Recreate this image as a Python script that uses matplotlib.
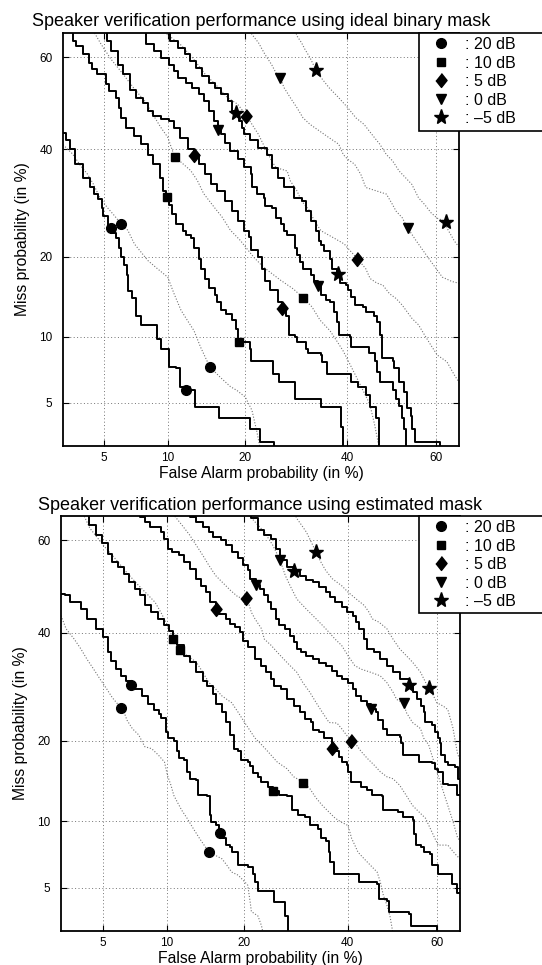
import math
import numpy as np
import matplotlib
matplotlib.use('Agg')
import matplotlib.pyplot as plt
from matplotlib.lines import Line2D
from matplotlib.patches import Rectangle
from matplotlib.ticker import NullLocator

plt.rcParams['font.family'] = ['Liberation Sans', 'DejaVu Sans']

# ---- data: (false alarm %, miss %) ----
snr_labels = [': 20 dB', ': 10 dB', ': 5 dB', ': 0 dB', ': \u20135 dB']
tick_vals = [5, 10, 20, 40, 60]

# ideal binary mask, solid curves
ibm_solid_20 = [(3.0,43.5),(3.1,42.1),(3.3,40.0),(3.5,36.9),(3.85,34.1),(4.2,32.2),(4.4,30.9),(4.65,29.9),(4.85,28.3),(4.95,26.8),(5.25,24.7),(5.4,23.8),(5.75,23.0),(5.95,21.3),(6.05,20.0),(6.3,18.8),(6.5,17.3),(6.6,15.1),(6.9,14.2),(7.2,12.2),(7.6,11.2),(8.9,11.2),(9.0,9.8),(9.3,8.9),(10.1,8.5),(10.1,7.4),(10.9,7.3),(11.3,6.0),(12.4,5.8),(13.0,4.8),(16.1,4.8),(16.1,4.2),(20.8,4.2),(20.8,3.7),(22.6,3.7),(22.6,3.15),(25.1,3.15),(25.1,2.9)]
ibm_solid_10 = [(3.27,66),(3.4,63.3),(3.55,62.3),(3.85,60.6),(4.15,58.8),(4.3,57.4),(4.6,56.3),(5.1,54.1),(5.3,52.7),(5.75,51.2),(5.95,49.0),(6.05,46.8),(6.4,44.7),(7.0,42.9),(7.6,41.1),(8.15,38.9),(8.6,36.9),(9.2,34.1),(9.5,31.5),(9.8,30.2),(10.1,28.9),(10.45,27.1),(10.9,25.3),(11.6,24.2),(12.0,23.5),(12.6,22.9),(12.95,21.3),(13.5,19.7),(13.7,18.2),(14.3,16.8),(14.8,15.5),(15.6,14.6),(15.85,13.8),(16.5,12.8),(17.2,12.4),(18.1,11.7),(18.6,10.8),(18.9,10.15),(19.0,9.5),(19.9,9.5),(20.8,8.9),(21.0,7.9),(22.9,7.9),(24.9,6.9),(26.0,6.3),(28.8,6.3),(29.1,5.25),(34.3,5.25),(34.3,4.8),(38.1,4.8),(38.7,3.8),(39.1,2.9)]
ibm_solid_5 = [(4.95,66),(5.15,63.3),(5.4,61.3),(5.85,58.4),(6.2,56.3),(6.75,53.0),(7.2,51.2),(7.75,50.1),(8.15,48.3),(8.6,47.2),(9.3,46.5),(10.1,46.1),(10.6,44.7),(11.3,42.5),(12.2,40.0),(12.9,38.9),(13.5,36.9),(14.3,34.8),(15.0,32.8),(15.85,31.5),(17.0,29.6),(18.1,27.7),(18.9,25.9),(19.9,24.2),(20.7,23.1),(21.0,21.0),(22.3,20.0),(22.9,18.2),(23.4,16.4),(24.3,15.3),(25.7,13.8),(26.5,13.1),(27.2,12.2),(27.8,10.15),(29.1,10.0),(29.4,9.5),(31.3,8.9),(31.6,8.5),(34.3,8.35),(34.6,7.8),(35.6,6.9),(40.1,6.9),(40.9,6.3),(42.4,6.0),(44.2,5.45),(45.0,4.8),(46.5,4.2),(47.2,2.9)]
ibm_solid_0 = [(7.75,66),(8.0,62.7),(8.7,61.3),(9.3,59.9),(10.1,58.4),(10.6,57.0),(11.1,55.6),(12.0,54.5),(12.7,53.4),(13.5,52.0),(14.1,50.5),(14.8,48.3),(15.4,46.1),(16.0,44.1),(16.5,43.2),(17.0,41.4),(17.7,39.7),(18.9,37.9),(19.9,36.4),(21.0,34.8),(21.2,32.2),(22.0,30.9),(23.2,30.2),(23.4,28.6),(24.6,28.3),(25.4,26.5),(26.3,25.3),(26.9,24.2),(27.5,23.5),(29.1,21.3),(29.4,20.3),(30.0,19.2),(30.6,18.2),(32.3,17.3),(32.9,16.4),(33.6,15.9),(34.3,14.6),(35.3,14.0),(36.3,13.8),(37.0,12.6),(37.7,11.5),(38.1,10.2),(40.5,10.0),(40.9,9.05),(44.4,9.05),(44.8,8.5),(46.3,7.9),(46.6,7.0),(47.3,6.3),(49.9,6.3),(50.2,5.75),(51.0,5.25),(51.7,4.85),(52.4,4.2),(52.8,3.7),(53.2,2.9)]
ibm_solid_m5 = [(9.8,66),(10.25,63.3),(11.1,62.0),(11.8,60.6),(12.4,59.1),(13.1,57.7),(13.9,55.9),(14.8,54.5),(15.6,53.4),(16.5,52.0),(17.4,50.5),(18.1,48.3),(18.7,47.9),(19.1,46.1),(19.6,44.7),(19.9,43.2),(20.8,42.1),(22.3,40.4),(23.7,38.9),(24.6,36.2),(25.7,34.1),(26.9,32.2),(28.8,30.2),(30.3,29.6),(31.3,27.7),(32.3,25.9),(33.3,24.2),(33.9,22.5),(34.3,21.9),(34.9,20.8),(36.3,19.7),(36.7,18.2),(37.7,17.5),(38.4,16.2),(39.8,15.9),(40.1,15.3),(40.8,14.4),(41.6,13.4),(43.4,13.2),(44.1,12.6),(45.9,12.2),(46.6,11.5),(47.3,10.15),(47.7,8.1),(50.2,7.9),(50.6,7.3),(51.7,6.3),(52.8,5.65),(53.5,4.7),(54.3,4.3),(54.6,3.7),(55.3,3.15),(61.0,3.15),(61.0,2.9)]

# ideal binary mask, dotted curves
ibm_dot_20 = [(3.0,41.0),(3.4,39.0),(3.7,36.9),(4.1,34.8),(4.4,32.8),(4.75,30.2),(5.2,28.3),(5.65,26.8),(6.1,25.3),(6.55,24.3),(7.05,22.0),(8.15,19.4),(9.0,18.2),(10.0,17.0),(10.65,14.8),(11.4,12.8),(12.1,11.7),(12.9,10.6),(13.7,9.05),(14.9,7.4),(16.4,6.6),(17.8,6.0),(18.8,5.75),(20.1,5.35),(21.2,4.6),(22.0,3.6),(22.6,2.9)]
ibm_dot_10 = [(4.3,66),(4.8,62.8),(5.4,59.6),(6.2,56.4),(7.05,53.1),(7.85,50.6),(8.55,47.7),(9.3,44.8),(10.0,42.6),(10.7,38.5),(11.6,37.0),(12.5,35.6),(13.3,33.6),(14.1,31.0),(15.5,28.4),(16.6,26.6),(17.8,24.3),(19.3,22.6),(21.5,19.9),(23.2,18.4),(26.2,16.6),(28.7,15.4),(30.6,14.3),(32.4,13.2),(34.1,11.7),(36.2,10.6),(37.6,9.65),(39.0,8.75),(40.5,7.65),(42.0,6.65),(43.5,5.75),(45.0,4.95),(46.1,3.9),(47.2,2.9)]
ibm_dot_5 = [(9.8,66),(9.95,64.7),(11.3,62.7),(12.7,59.9),(14.3,56.3),(16.1,53.4),(17.4,51.2),(18.9,49.8),(20.3,47.3),(21.2,45.4),(22.3,43.2),(23.4,40.4),(24.6,37.6),(25.4,36.2),(27.5,35.5),(28.1,33.5),(29.4,31.5),(30.3,29.6),(32.0,27.7),(32.9,25.9),(34.3,24.2),(37.0,23.0),(39.3,22.0),(40.5,21.0),(42.2,19.7),(44.1,18.2),(45.1,16.8),(46.6,16.2),(48.0,15.9),(49.5,14.8),(51.0,14.2),(52.4,13.4),(54.6,11.9),(56.1,11.2),(57.5,10.15),(58.9,9.2),(60.3,8.35),(62.4,7.8),(64.0,6.8),(66,5.8)]
ibm_dot_0 = [(20.8,66),(21.2,64.7),(22.3,63.0),(23.4,60.6),(24.6,58.4),(25.4,56.6),(26.2,55.5),(26.9,53.4),(28.1,51.2),(29.4,49.0),(30.6,46.8),(32.0,45.4),(33.9,44.0),(36.0,42.5),(38.1,41.1),(39.1,38.9),(40.1,37.9),(41.6,36.9),(43.0,34.8),(44.1,32.2),(46.6,31.5),(48.8,30.9),(50.2,28.9),(51.0,27.7),(52.4,26.5),(53.7,24.6),(54.6,23.6),(55.5,22.6),(58.2,19.9),(61.4,17.0),(63.5,16.4),(66,16.0)]
ibm_dot_m5 = [(28.9,66),(29.4,64.4),(30.3,63.0),(31.0,61.6),(32.0,59.9),(33.2,57.3),(34.3,55.6),(36.0,53.4),(38.1,51.2),(40.1,49.0),(41.9,46.8),(43.7,45.4),(45.5,43.2),(47.3,41.1),(48.8,38.9),(50.2,37.6),(51.7,35.5),(53.2,34.1),(54.6,32.8),(56.1,30.2),(57.5,28.9),(58.9,27.4),(60.3,26.4),(62.2,25.8),(62.4,24.7),(64.0,22.5),(66,20.5)]

ibm_circle = [(5.4,24.7),(6.1,25.3),(12.0,5.8),(14.9,7.4)]
ibm_square = [(9.9,30.4),(10.7,38.5),(19.1,9.5),(30.6,14.3)]
ibm_diamond = [(12.9,38.9),(20.3,47.3),(26.5,13.1),(42.2,19.7)]
ibm_tri = [(16.0,44.1),(26.2,55.5),(33.6,15.8),(53.7,24.6)]
ibm_star = [(18.7,47.9),(33.2,57.3),(38.0,17.5),(62.2,25.8)]

# estimated mask, solid curves
est_solid_20 = [(3.0,48.4),(3.15,48.1),(3.35,46.6),(3.85,45.2),(4.15,43.0),(4.65,40.9),(5.05,39.1),(5.3,36.0),(5.5,34.3),(5.85,32.6),(6.2,31.3),(6.5,30.3),(6.9,29.5),(7.2,28.8),(7.75,27.5),(8.3,26.0),(8.85,25.1),(9.3,24.3),(9.5,23.6),(9.95,21.4),(10.1,20.4),(10.75,19.9),(11.1,18.4),(11.3,17.4),(11.8,17.2),(12.2,15.6),(12.6,14.7),(13.3,14.5),(13.5,12.7),(14.6,12.6),(15.0,10.6),(15.2,9.9),(15.8,9.6),(16.3,8.95),(16.7,8.45),(17.2,7.9),(17.9,7.75),(18.1,7.35),(18.9,7.35),(19.1,6.4),(20.6,6.3),(21.5,5.85),(21.8,5.35),(22.3,4.8),(24.9,4.8),(25.1,4.25),(26.9,4.25),(27.2,3.6),(27.8,2.9)]
est_solid_10 = [(4.1,66),(4.25,63.2),(4.65,61.1),(4.95,59.3),(5.3,57.1),(5.6,55.3),(5.95,54.3),(6.4,52.8),(6.75,51.0),(7.2,49.5),(7.6,48.1),(8.0,45.9),(8.55,44.4),(9.15,43.0),(9.75,41.6),(10.25,40.5),(10.7,38.7),(11.1,37.4),(11.8,35.3),(12.5,34.0),(13.3,32.0),(14.1,30.3),(14.7,29.4),(15.4,27.8),(15.8,26.0),(16.7,24.6),(17.2,22.9),(17.9,20.9),(18.4,18.8),(19.1,18.4),(19.6,17.2),(20.6,16.9),(21.0,16.3),(21.5,15.4),(22.3,14.95),(22.9,14.3),(24.0,13.7),(25.0,13.2),(26.0,12.7),(27.5,12.6),(28.4,11.1),(29.7,10.6),(31.0,10.4),(32.0,9.6),(33.6,9.3),(34.3,8.45),(35.3,8.2),(36.0,7.35),(36.3,6.6),(37.0,5.85),(42.6,5.85),(42.6,5.35),(46.6,5.2),(47.0,4.4),(48.8,4.3),(49.2,3.8),(53.9,3.7),(54.3,3.2),(60.0,3.15),(60.0,2.9)]
est_solid_5 = [(7.5,66),(7.6,64.8),(8.0,63.8),(8.45,62.8),(9.45,61.7),(9.75,60.3),(10.1,58.2),(10.6,57.5),(11.3,56.8),(11.8,55.3),(12.5,53.9),(13.3,51.7),(13.9,50.2),(14.5,48.8),(15.1,46.6),(15.9,45.2),(16.3,44.1),(17.2,43.0),(17.9,41.9),(18.6,41.2),(19.3,40.1),(19.8,38.4),(20.6,37.0),(21.8,34.6),(22.9,33.3),(23.7,32.0),(24.6,30.7),(25.1,29.4),(26.3,28.8),(27.5,26.9),(28.8,25.7),(30.0,24.6),(31.0,23.4),(32.3,23.0),(32.6,21.7),(33.9,21.4),(34.9,20.4),(36.6,18.9),(37.3,18.4),(38.1,17.6),(38.7,16.9),(39.8,16.5),(40.1,15.6),(40.8,14.3),(43.0,13.7),(44.4,13.3),(45.5,12.7),(47.7,12.6),(48.0,11.1),(51.4,10.9),(52.4,10.4),(54.6,10.1),(55.0,8.85),(55.3,7.9),(56.4,7.75),(57.1,7.35),(58.6,7.2),(58.9,6.4),(60.3,6.3),(60.3,5.85),(62.5,5.85),(63.2,5.2),(64.3,4.7),(66,4.7)]
est_solid_0 = [(12.3,66),(12.5,64.8),(13.3,63.8),(14.1,62.8),(14.9,61.7),(15.4,60.7),(16.5,60.0),(17.2,58.9),(18.1,57.5),(19.1,56.1),(19.9,54.6),(20.6,53.5),(21.0,51.7),(21.9,50.3),(22.6,49.5),(23.4,48.1),(24.0,46.6),(24.6,45.1),(25.4,43.0),(26.0,41.6),(27.2,40.9),(28.1,39.4),(28.8,38.1),(29.4,36.7),(30.3,36.0),(31.3,35.3),(32.6,34.6),(33.9,33.9),(35.3,33.3),(36.7,32.3),(37.7,31.3),(38.7,30.7),(40.1,30.0),(41.2,28.8),(41.9,27.5),(43.0,26.6),(44.4,26.0),(45.2,25.2),(46.3,24.6),(46.8,23.3),(48.0,21.9),(48.8,20.9),(51.7,20.6),(52.1,19.6),(52.4,17.9),(55.7,17.9),(56.1,16.9),(58.9,16.7),(59.6,16.0),(60.3,15.6),(61.4,14.1),(62.4,13.9),(63.5,13.9),(64.3,12.8),(66,12.7)]
est_solid_m5 = [(20.9,66),(21.2,64.5),(22.3,62.1),(23.4,61.1),(24.6,60.3),(25.4,58.2),(26.2,55.8),(27.5,54.3),(28.9,53.3),(30.0,52.4),(31.3,51.4),(32.6,51.0),(33.9,49.9),(35.3,48.8),(36.3,47.7),(37.3,46.6),(38.7,45.5),(39.8,44.4),(41.2,43.7),(41.9,42.3),(42.6,40.9),(43.7,38.7),(44.4,36.7),(45.9,36.0),(47.3,34.6),(48.8,33.3),(50.2,32.0),(51.7,30.7),(53.9,29.5),(54.6,28.2),(55.7,26.9),(56.4,25.7),(57.1,24.6),(57.5,22.9),(58.9,22.5),(59.6,21.4),(60.3,20.4),(60.7,19.6),(61.0,17.9),(61.7,16.9),(62.4,16.5),(64.0,16.2),(64.5,14.7),(66,14.7)]

# estimated mask, dotted curves
est_dot_20 = [(3.0,43.7),(3.2,40.9),(3.55,38.7),(3.85,36.7),(4.15,34.6),(4.5,32.6),(4.85,30.7),(5.25,28.8),(5.6,27.2),(6.2,25.3),(6.4,24.6),(6.6,23.3),(7.0,21.9),(7.5,20.9),(8.0,19.1),(8.6,18.8),(9.2,17.9),(9.8,16.9),(10.1,15.1),(10.45,13.9),(10.75,12.7),(11.1,12.0),(11.6,11.1),(12.2,10.3),(12.95,9.3),(13.7,8.45),(14.9,7.35),(15.8,7.1),(16.7,6.85),(17.4,6.4),(18.1,5.95),(19.1,5.75),(20.1,5.35),(20.6,5.15),(21.0,4.25),(21.2,3.8),(22.3,3.6),(22.9,3.2),(23.2,2.9)]
est_dot_10 = [(3.9,66),(4.3,62.5),(5.1,58.7),(5.8,56.0),(6.6,53.0),(7.4,50.5),(8.3,48.1),(8.9,46.6),(9.45,44.4),(10.1,41.6),(10.9,38.7),(11.4,36.5),(12.2,35.3),(13.3,34.0),(14.1,32.0),(14.9,30.0),(15.8,28.8),(16.7,27.5),(18.1,26.3),(19.1,24.6),(20.1,22.9),(21.8,20.4),(22.9,19.4),(24.0,18.4),(25.7,16.9),(27.5,16.0),(28.8,14.95),(30.6,14.3),(32.0,13.5),(33.3,12.4),(34.6,11.6),(36.0,10.9),(37.3,10.3),(38.7,9.9),(40.1,9.6),(40.9,8.45),(41.6,7.9),(42.3,7.35),(43.7,6.85),(45.1,6.4),(46.6,5.95),(47.3,5.35),(48.0,4.6),(48.8,4.1),(49.5,3.6),(50.2,2.9)]
est_dot_5 = [(10.6,66),(10.75,65.2),(11.6,63.2),(12.5,61.1),(13.3,58.9),(14.1,56.8),(14.9,54.6),(15.8,52.4),(16.7,51.0),(17.9,49.2),(19.1,47.7),(20.3,47.5),(20.7,46.6),(21.2,44.4),(21.8,43.0),(22.9,40.9),(23.4,38.7),(24.6,37.4),(25.7,36.0),(26.9,34.6),(28.1,33.3),(29.4,32.0),(30.6,30.0),(32.0,28.2),(33.3,26.3),(34.6,24.6),(36.0,22.9),(37.7,22.8),(38.7,21.9),(40.7,20.0),(41.9,19.4),(43.0,18.4),(44.4,17.4),(45.9,16.5),(47.3,15.6),(48.8,14.95),(50.2,14.7),(51.7,13.9),(53.2,12.7),(54.6,11.6),(56.1,10.9),(57.5,10.3),(58.6,9.3),(59.6,8.45),(60.3,7.9),(62.4,7.9),(64.0,7.2),(66,6.5)]
est_dot_0 = [(20.2,66),(21.8,63.8),(23.4,61.7),(24.9,58.9),(26.2,55.8),(27.2,52.4),(28.1,50.2),(29.4,47.3),(31.3,45.1),(33.3,43.0),(35.3,40.9),(37.3,38.7),(38.7,37.4),(40.1,35.3),(41.6,33.3),(43.0,32.6),(45.1,32.0),(47.3,31.3),(48.8,30.0),(50.2,28.2),(51.0,26.9),(52.6,26.2),(53.2,24.6),(54.6,22.9),(56.4,21.9),(57.1,20.4),(58.2,19.4),(58.9,17.9),(59.6,16.5),(60.3,15.1),(61.0,13.9),(61.7,12.7),(62.4,11.6),(63.5,10.0),(64.5,8.5),(66,7.8)]
est_dot_m5 = [(28.8,66),(29.4,64.5),(30.3,63.2),(31.3,61.7),(32.3,59.6),(33.3,57.4),(34.3,55.3),(35.3,53.5),(36.7,51.7),(38.7,50.2),(40.1,48.8),(41.9,47.3),(43.7,45.9),(44.8,44.4),(45.5,43.0),(47.0,42.3),(48.8,40.9),(50.2,38.7),(51.7,36.7),(53.2,35.3),(54.6,34.0),(56.4,32.0),(58.2,28.9),(58.9,28.2),(60.0,26.3),(61.4,25.7),(62.4,25.1),(63.5,22.0),(64.5,18.0),(66,15.8)]

est_circle = [(6.2,25.3),(6.9,29.5),(14.9,7.35),(16.4,8.95)]
est_square = [(10.7,38.7),(11.4,36.5),(25.0,13.2),(30.6,14.2)]
est_diamond = [(15.9,45.2),(20.3,47.5),(36.6,18.9),(40.7,20.0)]
est_tri = [(21.9,50.3),(26.2,55.8),(45.2,25.2),(52.6,26.2)]
est_star = [(28.9,53.3),(33.3,57.4),(53.9,29.5),(58.2,28.9)]

# ---- normal deviate (probit) scale, in percent ----
_z = np.linspace(-5, 5, 20001)
_p = np.array([50.0 * (1 + math.erf(v / math.sqrt(2))) for v in _z])

def to_probit(p):
    return np.interp(p, _p, _z)

def from_probit(z):
    return np.interp(z, _z, _p)

diamond = [(0, 1), (0.8, 0), (0, -1), (-0.8, 0)]
markerStyles = [('o', 7.0), ('s', 5.6), (diamond, 10.0), ('v', 7.8), ('*', 11.0)]

W, H = 542, 965


def draw_det(fig, ax, solids, dots, marks, title, pad, leg_top, leg_bottom):
    ax.set_xscale('function', functions=(to_probit, from_probit))
    ax.set_yscale('function', functions=(to_probit, from_probit))
    for c in dots:
        x, y = zip(*c)
        ax.plot(x, y, color='0.45', lw=0.8, ls=(0, (1, 1.6)), zorder=2)
    for c in solids:
        x, y = zip(*c)
        ax.plot(x, y, color='k', lw=1.4, drawstyle='steps-post', zorder=3)
    for pts, (m, ms) in zip(marks, markerStyles):
        x, y = zip(*pts)
        ax.plot(x, y, marker=m, color='k', ms=ms, ls='none', zorder=4)
    ax.set_xlim(3, 65)
    ax.set_ylim(3, 65)
    ax.set_xticks(tick_vals)
    ax.set_xticklabels([str(t) for t in tick_vals])
    ax.set_yticks(tick_vals)
    ax.set_yticklabels([str(t) for t in tick_vals])
    ax.xaxis.set_minor_locator(NullLocator())
    ax.yaxis.set_minor_locator(NullLocator())
    ax.grid(True, color='0.45', ls=(0, (1, 2.5)), lw=0.7)
    ax.tick_params(axis='x', direction='in', top=True, length=4, width=0.8,
                   labelsize=8.5, pad=4)
    ax.tick_params(axis='y', direction='in', right=True, length=4, width=0.8,
                   labelsize=8.5, pad=7.5)
    for s in ax.spines.values():
        s.set_linewidth(1.3)
    ax.set_xlabel('False Alarm probability (in %)', fontsize=11.3, labelpad=1.5)
    ax.set_ylabel('Miss probability (in %)', fontsize=11.3, labelpad=7)
    ax.set_title(title, fontsize=13, pad=pad)

    # legend box runs past the right edge of the figure
    fig.add_artist(Rectangle((419 / W, 1 - leg_bottom / H), 200 / W,
                             (leg_bottom - leg_top) / H, transform=fig.transFigure,
                             facecolor='white', edgecolor='k', lw=1.2, zorder=1))
    handles = [Line2D([], [], marker=m, color='k', ms=ms, ls='none')
               for m, ms in markerStyles]
    fig.legend(handles, snr_labels, loc='upper left',
               bbox_to_anchor=(419 / W, 1 - leg_top / H), bbox_transform=fig.transFigure,
               fontsize=11.5, frameon=False, borderpad=0.25, handlelength=2.3,
               handletextpad=0.3, labelspacing=0.22, borderaxespad=0)


fig = plt.figure(figsize=(W / 100, H / 100), dpi=100)
ax1 = fig.add_axes([63 / W, 1 - 446 / H, 396 / W, 413 / H])
ax2 = fig.add_axes([61 / W, 1 - 931 / H, 399 / W, 415 / H])

draw_det(fig, ax1,
         [ibm_solid_20, ibm_solid_10, ibm_solid_5, ibm_solid_0, ibm_solid_m5],
         [ibm_dot_20, ibm_dot_10, ibm_dot_5, ibm_dot_0, ibm_dot_m5],
         [ibm_circle, ibm_square, ibm_diamond, ibm_tri, ibm_star],
         'Speaker verification performance using ideal binary mask', 5, 33, 131)
draw_det(fig, ax2,
         [est_solid_20, est_solid_10, est_solid_5, est_solid_0, est_solid_m5],
         [est_dot_20, est_dot_10, est_dot_5, est_dot_0, est_dot_m5],
         [est_circle, est_square, est_diamond, est_tri, est_star],
         'Speaker verification performance using estimated mask', 4, 516, 613)

fig.savefig('out.png', dpi=100)
